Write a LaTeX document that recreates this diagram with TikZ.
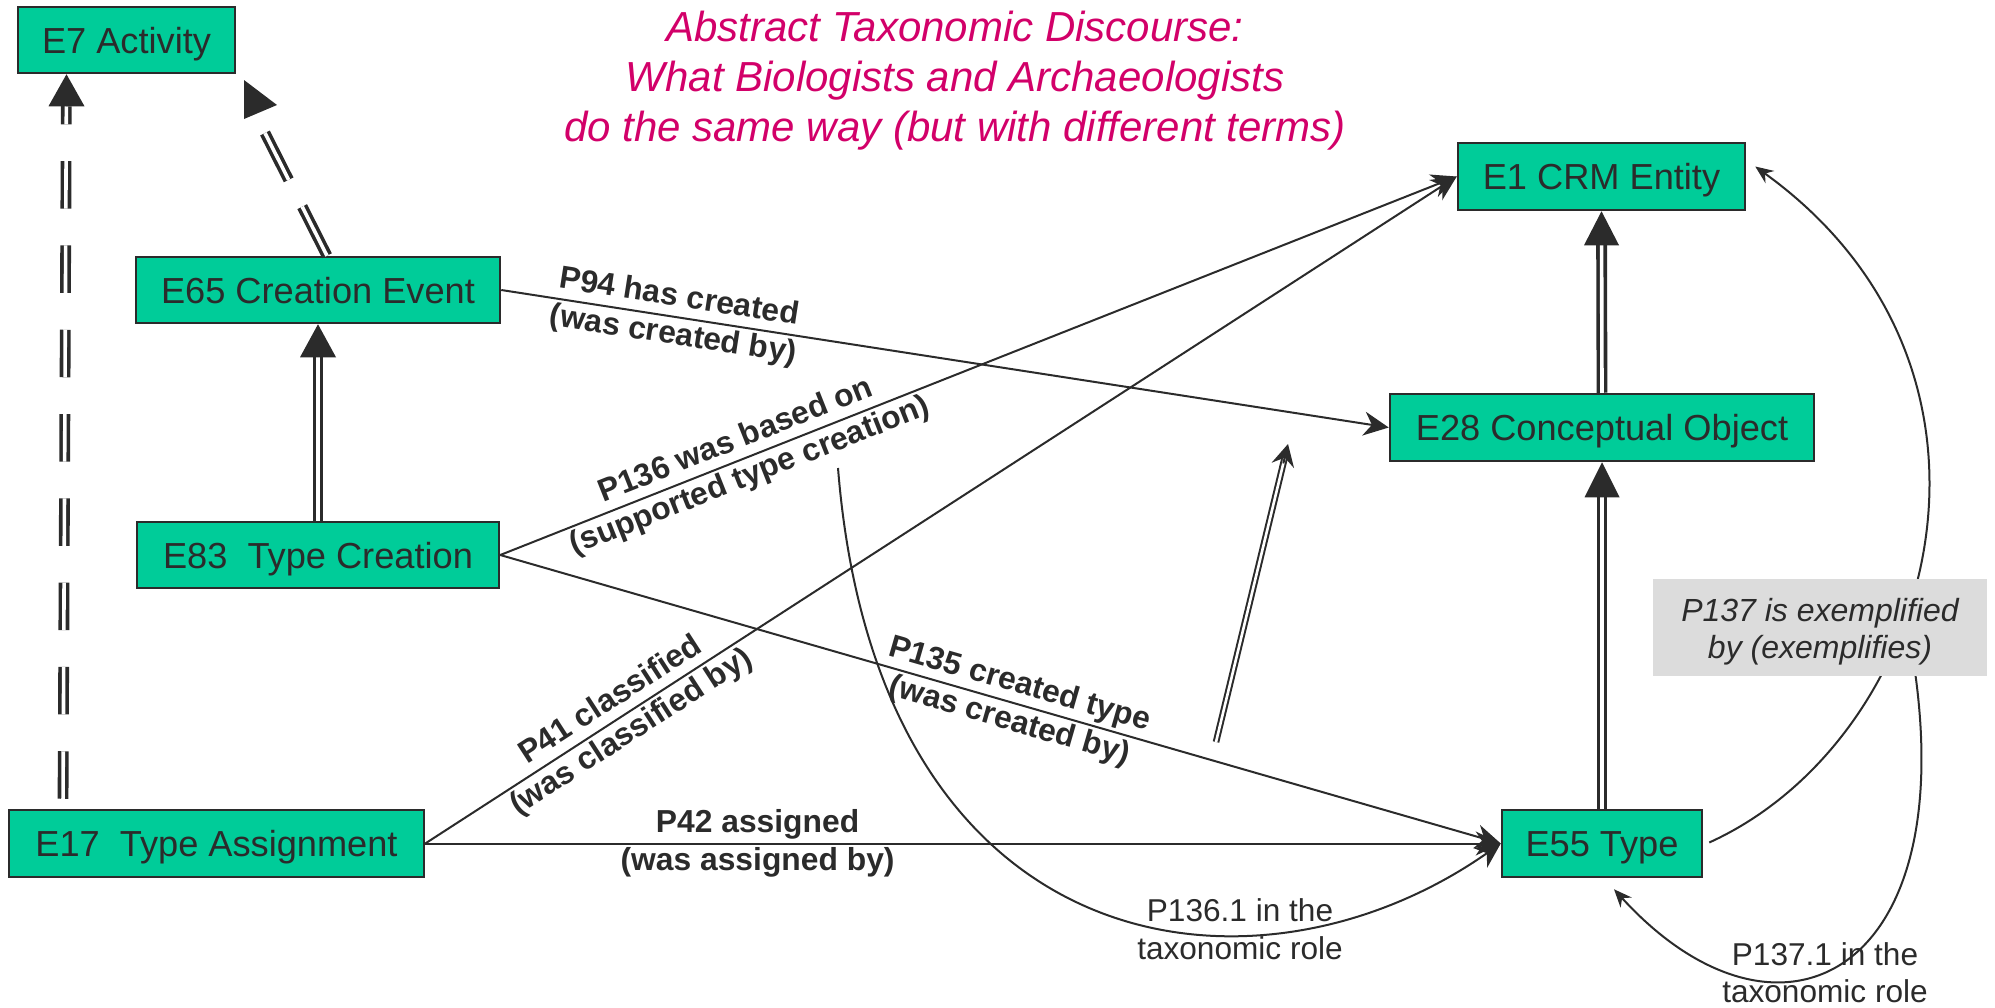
\documentclass[tikz,border=0pt]{standalone}
\usepackage{fontspec}
\setmainfont{Liberation Sans}
\usetikzlibrary{arrows.meta,calc}
\definecolor{ink}{HTML}{2B2B2B}
\definecolor{crmgreen}{RGB}{0,204,153}
\definecolor{notegray}{RGB}{220,220,220}
\definecolor{titlemag}{RGB}{210,0,105}
\begin{document}
\begin{tikzpicture}[x=1pt,y=-1pt,
  entity/.style={draw=ink, line width=2.5pt, fill=crmgreen, text=ink, inner sep=0pt,
    font=\fontsize{36.2}{40}\selectfont, text height=26.4pt, text depth=0pt},
  rel/.style={draw=ink, line width=2pt, -{Stealth[length=25pt,width=24pt,inset=8pt]}},
  smallrel/.style={draw=ink, line width=2pt, -{Stealth[length=18pt,width=15pt,inset=6pt]}},
  isa/.style={draw=ink, line width=3.6pt, double=white, double distance=3.6pt},
  isahead/.style={fill=ink, draw=none},
  lbl/.style={text=ink, font=\fontsize{31.8}{38}\selectfont\bfseries, align=center, inner sep=0pt},
  role/.style={text=ink, font=\fontsize{31.6}{37.5}\selectfont, align=center, inner sep=0pt},
]
\useasboundingbox (0,0) rectangle (1995,1007);

% title
\node[text=titlemag, font=\fontsize{42}{50}\selectfont\itshape, align=center, inner sep=0pt]
  (title) at (955,81) {Abstract Taxonomic Discourse:\\What Biologists and Archaeologists\\do the same way (but with different terms)};

% classes
\node[entity, minimum width=217pt, minimum height=66pt] (e7)  at (126.5,40)   {E7 Activity};
\node[entity, minimum width=364pt, minimum height=66pt] (e65) at (318,290)    {E65 Creation Event};
\node[entity, minimum width=362pt, minimum height=66pt] (e83) at (318,555)    {E83~~Type Creation};
\node[entity, minimum width=415pt, minimum height=67pt] (e17) at (216.5,843.5) {E17~~Type Assignment};
\node[entity, minimum width=287pt, minimum height=67pt] (e1)  at (1601.5,176.5) {E1 CRM Entity};
\node[entity, minimum width=424pt, minimum height=67pt] (e28) at (1602,427.5) {E28 Conceptual Object};
\node[entity, minimum width=200pt, minimum height=67pt] (e55) at (1602,843.5) {E55 Type};

% subclass links
\draw[isa, dash pattern=on 47.5pt off 36.8pt, dash phase=74.3pt, shorten >=32pt]
  (e17.north -| 63,0) -- (e7.south -| 66.5,0);
\fill[isahead] (e7.south -| 66.5,0) -- ++(-18,32) -- ++(36,0) -- cycle;

\coordinate (e7in) at (265,133);
\draw[isa, dash pattern=on 55pt off 30pt] (e65.north -| 327,0) -- (e7in);
\fill[isahead] ($(e7in)+(-21,-53)$) -- ($(e7in)+(12,-28)$) -- ($(e7in)+(-21,-14)$) -- cycle;

\draw[isa, shorten >=32pt] (e83.north) -- (e65.south);
\fill[isahead] (e65.south) -- ++(-18,33) -- ++(36,0) -- cycle;

\draw[isa, shorten >=32pt] (e28.north) -- (e1.south);
\fill[isahead] (e1.south) -- ++(-17.5,34) -- ++(35,0) -- cycle;

\draw[isa, shorten >=32pt] (e55.north) -- (e28.south);
\fill[isahead] (e28.south) -- ++(-17.5,35) -- ++(35,0) -- cycle;

% free double arrow
\coordinate (fa) at (1216,742);
\coordinate (fb) at (1288,444);
\draw[ink, line width=2pt, double=white, double distance=2.6pt, shorten >=15pt] (fa) -- (fb);
\draw[ink, line width=2pt, -{Stealth[length=22pt,width=23pt,inset=8pt]}] ($(fb)!20pt!(fa)$) -- (fb);

% properties
\draw[rel] (e65.east) -- node[lbl, sloped, pos=0.197] {P94 has created\\(was created by)} (e28.west);
\draw[rel] (e83.east) -- node[lbl, sloped, pos=0.254] {P136 was based on\\(supported type creation)} (e1.west);
\draw[rel] (e17.east) -- node[lbl, sloped, pos=0.19] {P41 classified\\(was classified by)} (e1.west);
\draw[rel] (e83.east) -- node[lbl, sloped, pos=0.514] {P135 created type\\(was created by)} (e55.west);
\draw[rel] (e17.east) -- node[lbl, pos=0.309] {P42 assigned\\(was assigned by)} (e55.west);

% property of property P136.1
\coordinate (p136r) at (838,468);
\draw[rel] (p136r) .. controls (878,968) and (1256,1015) .. (e55.west);
\node[role] (r1361) at (1240,929) {P136.1 in the\\taxonomic role};

% P137 and its property P137.1
\draw[smallrel] ($(e55.east)+(6,-1)$) .. controls (1935,740) and (2040,372) .. ($(e1.east)+(9,-10)$);
\coordinate (p137r) at (1908,630);
\draw[smallrel] (p137r) .. controls (1974.5,973) and (1781.5,1073) .. ($(e55.south)+(12,11)$);
\node[role] (r1371) at (1825,972.5) {P137.1 in the\\taxonomic role};

\node[fill=notegray, minimum width=334pt, minimum height=97pt, inner sep=0pt, text=ink,
  font=\fontsize{32}{36.5}\selectfont\itshape, align=center, text height=68pt] (note) at (1820,627.5)
  {P137 is exemplified\\by (exemplifies)};
\end{tikzpicture}
\end{document}
